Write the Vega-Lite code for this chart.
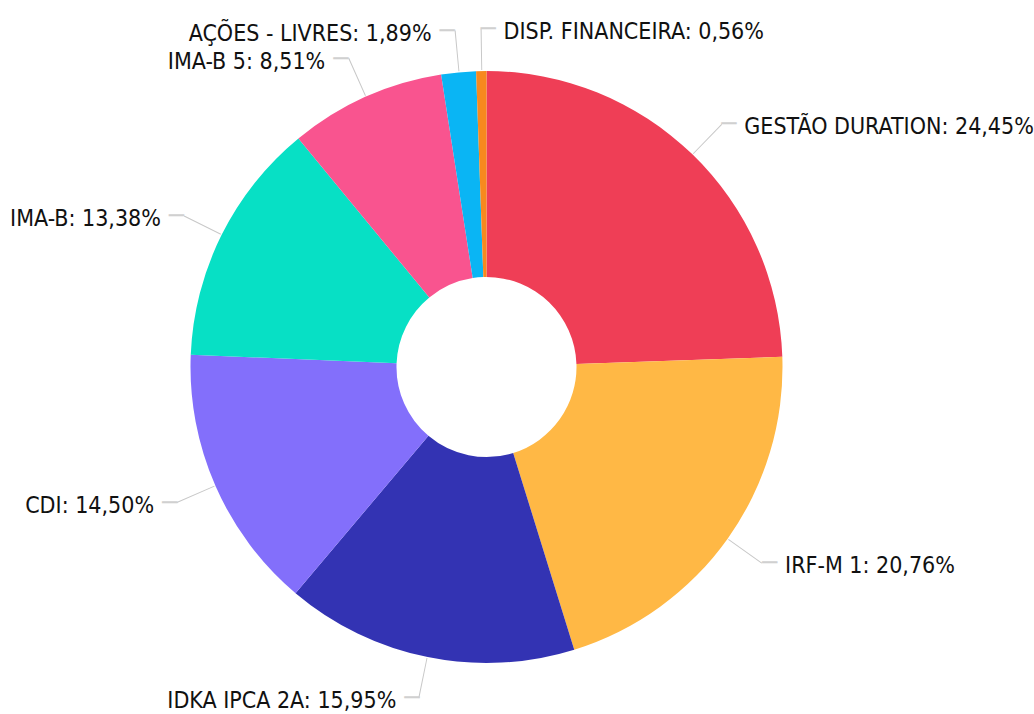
{
  "$schema": "https://vega.github.io/schema/vega-lite/v6.json",
  "width": 973,
  "height": 694,
  "autosize": {"type": "none"},
  "padding": {"left": 0, "top": 20, "right": 61, "bottom": 0},
  "background": "white",
  "config": {"view": {"stroke": null}},
  "data": {
    "values": [
      {"category": "GESTÃO DURATION", "value": 24.45},
      {"category": "IRF-M 1", "value": 20.76},
      {"category": "IDKA IPCA 2A", "value": 15.95},
      {"category": "CDI", "value": 14.50},
      {"category": "IMA-B", "value": 13.38},
      {"category": "IMA-B 5", "value": 8.51},
      {"category": "AÇÕES - LIVRES", "value": 1.89},
      {"category": "DISP. FINANCEIRA", "value": 0.56}
    ]
  },
  "transform": [
    {"window": [{"op": "sum", "field": "value", "as": "end"}], "frame": [null, 0]},
    {"calculate": "datum.end - datum.value", "as": "start"},
    {"calculate": "datum.end - datum.value / 2", "as": "mid"},
    {"calculate": "datum.mid + 0.05", "as": "mid2"},
    {"calculate": "datum.category + ': ' + replace(format(datum.value, '.2f'), '.', ',') + '%'", "as": "label"}
  ],
  "layer": [
    {
      "mark": {"type": "arc", "innerRadius": 90, "outerRadius": 296},
      "encoding": {
        "theta": {"field": "start", "type": "quantitative", "scale": {"type": "linear", "domain": [0, 100], "range": [0, 6.283185307179586]}},
        "theta2": {"field": "end"},
        "color": {
          "field": "category", "type": "nominal", "legend": null,
          "scale": {
            "domain": ["GESTÃO DURATION", "IRF-M 1", "IDKA IPCA 2A", "CDI", "IMA-B", "IMA-B 5", "AÇÕES - LIVRES", "DISP. FINANCEIRA"],
            "range": ["#EF3E56", "#FFB845", "#3333B3", "#836FFB", "#07E0C5", "#F9548F", "#0AB5F4", "#F7891E"]
          }
        }
      }
    },
    {
      "mark": {"type": "arc", "innerRadius": 297, "outerRadius": 338, "color": "#c8c8c8"},
      "encoding": {
        "theta": {"field": "mid", "type": "quantitative"},
        "theta2": {"field": "mid2"}
      }
    },
    {
      "transform": [{"filter": "datum.mid < 50 || datum.mid > 99.5"}],
      "mark": {"type": "text", "radius": 338, "align": "left", "baseline": "middle", "font": "DejaVu Sans Mono", "fontSize": 25, "color": "#d0d0d0", "text": "─"},
      "encoding": {"theta": {"field": "mid", "type": "quantitative"}}
    },
    {
      "transform": [{"filter": "datum.mid >= 50 && datum.mid <= 99.5"}],
      "mark": {"type": "text", "radius": 338, "align": "right", "baseline": "middle", "font": "DejaVu Sans Mono", "fontSize": 25, "color": "#d0d0d0", "text": "─"},
      "encoding": {"theta": {"field": "mid", "type": "quantitative"}}
    },
    {
      "transform": [{"filter": "datum.mid < 50 || datum.mid > 99.5"}],
      "mark": {"type": "text", "radius": 338, "align": "left", "baseline": "middle", "dx": 23, "dy": 3, "font": "DejaVu Sans Condensed", "fontSize": 23, "color": "#111111"},
      "encoding": {"theta": {"field": "mid", "type": "quantitative"}, "text": {"field": "label"}}
    },
    {
      "transform": [{"filter": "datum.mid >= 50 && datum.mid <= 99.5"}],
      "mark": {"type": "text", "radius": 338, "align": "right", "baseline": "middle", "dx": -23, "dy": 3, "font": "DejaVu Sans Condensed", "fontSize": 23, "color": "#111111"},
      "encoding": {"theta": {"field": "mid", "type": "quantitative"}, "text": {"field": "label"}}
    }
  ]
}
